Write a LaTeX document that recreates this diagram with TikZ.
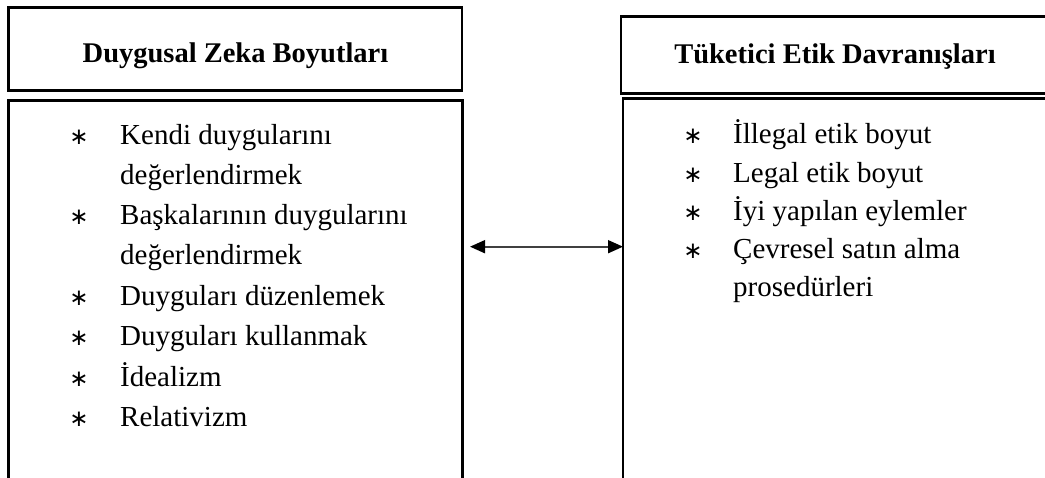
\documentclass[tikz,border=0pt]{standalone}
\usepackage{fontspec}
\setmainfont{Liberation Serif}
\newfontfamily\symfnt{DejaVu Sans}
\usetikzlibrary{arrows.meta}
\tikzset{
  frame/.style={draw=black, line width=2.6pt, rectangle, anchor=north west, inner sep=0pt, outer sep=0pt},
  headtxt/.style={font=\fontsize{28.5}{34}\selectfont\bfseries, anchor=base, inner sep=0pt},
  itemtxt/.style={font=\fontsize{29}{40}\selectfont, anchor=base west, inner sep=0pt},
  bul/.style={font=\symfnt\fontsize{23}{30}\selectfont, anchor=base, inner sep=0pt},
  link/.style={draw=black!75, line width=1.7pt,
    {Triangle[length=15pt,width=13pt,color=black]}-{Triangle[length=15pt,width=13pt,color=black]}}
}
\begin{document}
\begin{tikzpicture}[x=1pt,y=-1pt]
\useasboundingbox (0,0) rectangle (1045,478);
\clip (0,0) rectangle (1045,478);
% boxes
\node[frame, minimum width=453.5pt, minimum height=83pt] (lh) at (8.5,7.5) {};
\node[frame, minimum width=454pt, minimum height=420pt] (lb) at (8.5,100.5) {};
\node[frame, minimum width=428pt, minimum height=76.6pt] (rh) at (621,16.7) {};
\node[frame, minimum width=426pt, minimum height=420pt] (rb) at (623,98.3) {};
% headers
\node[headtxt] (lht) at (235.5,62.7) {Duygusal Zeka Boyutları};
\node[headtxt] (rht) at (835,63.3) {Tüketici Etik Davranışları};
% left list
\node[bul] (lb1) at (79,145) {∗};
\node[itemtxt] (li1) at (120,145) {Kendi duygularını};
\node[itemtxt] (li1b) at (120,185) {değerlendirmek};
\node[bul] (lb2) at (79,225) {∗};
\node[itemtxt] (li2) at (120,225) {Başkalarının duygularını};
\node[itemtxt] (li2b) at (120,265) {değerlendirmek};
\node[bul] (lb3) at (79,305.5) {∗};
\node[itemtxt] (li3) at (120,305.5) {Duyguları düzenlemek};
\node[bul] (lb4) at (79,346) {∗};
\node[itemtxt] (li4) at (120,346) {Duyguları kullanmak};
\node[bul] (lb5) at (79,386.5) {∗};
\node[itemtxt] (li5) at (120,386.5) {İdealizm};
\node[bul] (lb6) at (79,427) {∗};
\node[itemtxt] (li6) at (120,427) {Relativizm};
% right list
\node[bul] (rb1) at (693,144) {∗};
\node[itemtxt] (ri1) at (733,144) {İllegal etik boyut};
\node[bul] (rb2) at (693,182.5) {∗};
\node[itemtxt] (ri2) at (733,182.5) {Legal etik boyut};
\node[bul] (rb3) at (693,221) {∗};
\node[itemtxt] (ri3) at (733,221) {İyi yapılan eylemler};
\node[bul] (rb4) at (693,259) {∗};
\node[itemtxt] (ri4) at (733,259) {Çevresel satın alma};
\node[itemtxt] (ri4b) at (733,297) {prosedürleri};
% connector
\coordinate (al) at (470,246.7);
\coordinate (ar) at (rb.west |- al);
\draw[link] (al) -- (ar);
\end{tikzpicture}
\end{document}
